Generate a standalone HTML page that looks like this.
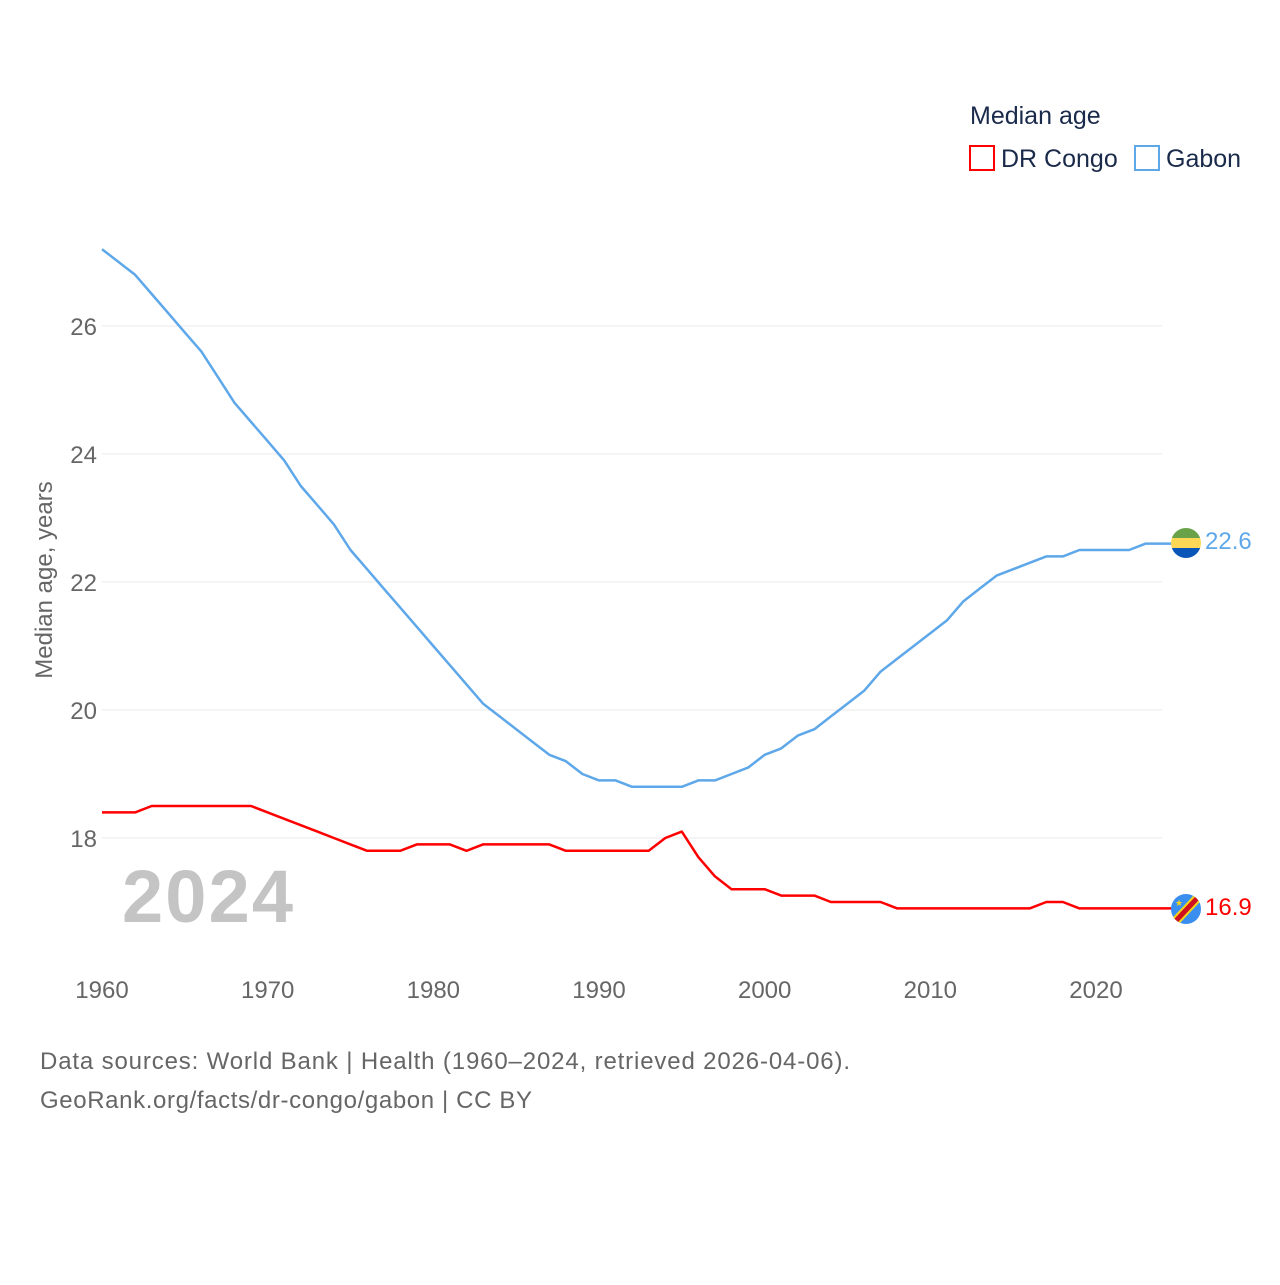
<!DOCTYPE html>
<html><head><meta charset="utf-8"><style>
body{margin:0;background:#fff;font-family:"Liberation Sans",sans-serif;}
svg text{font-family:"Liberation Sans",sans-serif;}
</style></head><body>
<svg id="chart" width="1280" height="1280" viewBox="0 0 1280 1280">
<g id="grid"></g>
<g id="yticks"></g>
<g id="xticks"></g>
<text x="52" y="580" transform="rotate(-90 52 580)" text-anchor="middle" font-size="24" fill="#666">Median age, years</text>
<text x="122" y="922" font-size="74" font-weight="bold" fill="#c4c4c4" textLength="171">2024</text>
<g id="lines"></g>
<g>
<text x="970" y="124" font-size="25" fill="#1a2a4a">Median age</text>
<g><rect x="970" y="146" width="24" height="24" fill="none" stroke="#ff0000" stroke-width="2"/><text x="1001" y="167" font-size="25" fill="#1a2a4a">DR Congo</text></g>
<g><rect x="1135" y="146" width="24" height="24" fill="none" stroke="#5ea8ea" stroke-width="2"/><text x="1166" y="167" font-size="25" fill="#1a2a4a">Gabon</text></g>
</g>
<defs>
<clipPath id="cg"><circle cx="1186" cy="543" r="15"/></clipPath>
<clipPath id="cc"><circle cx="1186" cy="909" r="15"/></clipPath>
</defs>
<g clip-path="url(#cg)">
<rect x="1171" y="528" width="30" height="10" fill="#6aa24a"/><rect x="1171" y="538" width="30" height="10" fill="#fcd856"/><rect x="1171" y="548" width="30" height="10" fill="#0a55b8"/>
</g>
<g clip-path="url(#cc)">
<rect x="1171" y="894" width="30" height="30" fill="#3a8ef0"/>
<line x1="1171" y1="926" x2="1203" y2="892" stroke="#f7d618" stroke-width="9"/>
<line x1="1171" y1="926" x2="1203" y2="892" stroke="#ce1021" stroke-width="5"/>
<text x="1175" y="906" font-size="9" fill="#f7d618">★</text>
</g>
<text x="1205" y="549" font-size="24" fill="#5ea8ea">22.6</text>
<text x="1205" y="915" font-size="24" fill="#ff0000">16.9</text>
<text x="40" y="1069" font-size="24" fill="#666" textLength="810">Data sources: World Bank | Health (1960–2024, retrieved 2026-04-06).</text>
<text x="40" y="1108" font-size="24" fill="#666" textLength="492">GeoRank.org/facts/dr-congo/gabon | CC BY</text>
</svg>
<script>
const years = [];
for (let y = 1960; y <= 2024; y++) years.push(y);
const gabon = [27.2,27.0,26.8,26.5,26.2,25.9,25.6,25.2,24.8,24.5,24.2,23.9,23.5,23.2,22.9,22.5,22.2,21.9,21.6,21.3,21.0,20.7,20.4,20.1,19.9,19.7,19.5,19.3,19.2,19.0,18.9,18.9,18.8,18.8,18.8,18.8,18.9,18.9,19.0,19.1,19.3,19.4,19.6,19.7,19.9,20.1,20.3,20.6,20.8,21.0,21.2,21.4,21.7,21.9,22.1,22.2,22.3,22.4,22.4,22.5,22.5,22.5,22.5,22.6,22.6];
const drCongo = [18.4,18.4,18.4,18.5,18.5,18.5,18.5,18.5,18.5,18.5,18.4,18.3,18.2,18.1,18.0,17.9,17.8,17.8,17.8,17.9,17.9,17.9,17.8,17.9,17.9,17.9,17.9,17.9,17.8,17.8,17.8,17.8,17.8,17.8,18.0,18.1,17.7,17.4,17.2,17.2,17.2,17.1,17.1,17.1,17.0,17.0,17.0,17.0,16.9,16.9,16.9,16.9,16.9,16.9,16.9,16.9,16.9,17.0,17.0,16.9,16.9,16.9,16.9,16.9,16.9];
const yTicks = [18,20,22,24,26];
const xTicks = [1960,1970,1980,1990,2000,2010,2020];
const NS = 'http://www.w3.org/2000/svg';
const xs = yr => 102 + (yr - 1960) * (994 / 60);
const ys = v => 838 - (v - 18) * 64;
const grid = document.getElementById('grid'), yt = document.getElementById('yticks'), xt = document.getElementById('xticks'), lines = document.getElementById('lines');
yTicks.forEach(t => {
  const l = document.createElementNS(NS, 'line');
  l.setAttribute('x1', 102); l.setAttribute('x2', 1162);
  l.setAttribute('y1', ys(t)); l.setAttribute('y2', ys(t));
  l.setAttribute('stroke', '#e8e8e8'); l.setAttribute('stroke-width', 1);
  
  
  grid.appendChild(l);
  const tx = document.createElementNS(NS, 'text');
  tx.setAttribute('x', 97); tx.setAttribute('y', ys(t) + 9);
  tx.setAttribute('text-anchor', 'end'); tx.setAttribute('font-size', 24); tx.setAttribute('fill', '#666');
  tx.textContent = t;
  
  
  yt.appendChild(tx);
});
xTicks.forEach(t => {
  const tx = document.createElementNS(NS, 'text');
  tx.setAttribute('x', xs(t)); tx.setAttribute('y', 998);
  tx.setAttribute('text-anchor', 'middle'); tx.setAttribute('font-size', 24); tx.setAttribute('fill', '#666');
  tx.textContent = t;
  
  
  xt.appendChild(tx);
});
function drawLine(vals, color, name) {
  const pts = vals.map((v, i) => xs(years[i]).toFixed(1) + ',' + ys(v).toFixed(1));
  pts.push('1172,' + ys(vals[vals.length - 1]).toFixed(1));
  const p = document.createElementNS(NS, 'polyline');
  p.setAttribute('points', pts.join(' '));
  p.setAttribute('fill', 'none'); p.setAttribute('stroke', color); p.setAttribute('stroke-width', 2.5);
  p.setAttribute('stroke-linejoin', 'round');
  
  
  lines.appendChild(p);
}
drawLine(gabon, '#5ea8ea', 'gabon-line');
drawLine(drCongo, '#ff0000', 'dr-congo-line');
</script>
</body></html>
